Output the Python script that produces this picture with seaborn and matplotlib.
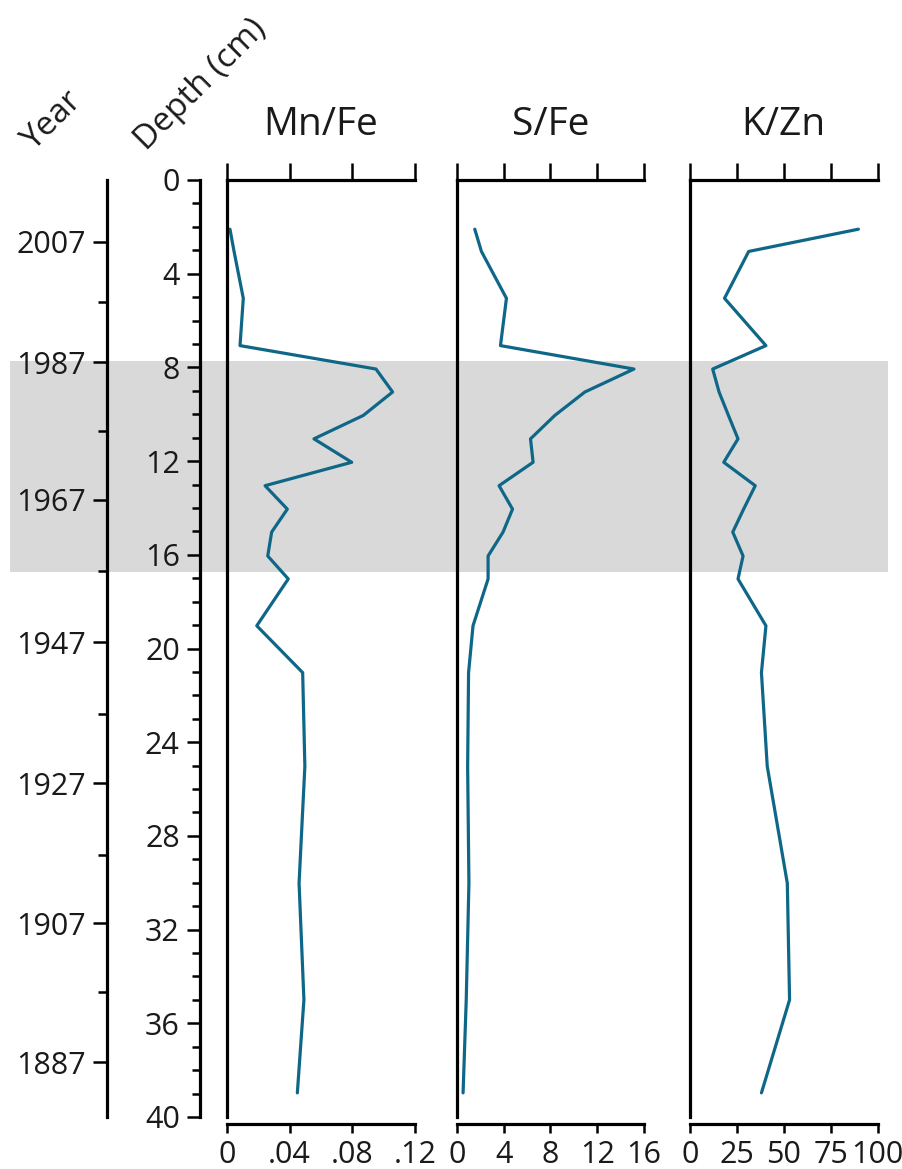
import matplotlib
matplotlib.use("Agg")
import matplotlib.pyplot as plt
import matplotlib.transforms as mtransforms
from matplotlib.patches import Rectangle
from matplotlib.ticker import FixedLocator, MultipleLocator, NullLocator
import seaborn as sns

# ---------------- data ----------------
depth = [2.1, 3.05, 5.05, 7.07, 8.07, 9.05, 10.05, 11.05, 12.05, 13.05,
         14.05, 15.03, 16.05, 17.03, 19.03, 21.03, 25.03, 30.02, 35.0, 38.97]
mn_fe = [0.0019, 0.0045, 0.0104, 0.0083, 0.0951, 0.1057, 0.087, 0.0555, 0.0796, 0.0243,
         0.0385, 0.0285, 0.026, 0.0391, 0.019, 0.0483, 0.0497, 0.046, 0.0491, 0.0449]
s_fe = [1.52, 2.09, 4.23, 3.72, 15.14, 10.94, 8.37, 6.29, 6.51, 3.6,
        4.75, 3.94, 2.66, 2.66, 1.37, 0.99, 0.91, 1.02, 0.79, 0.52]
k_zn = [89.8, 31.3, 18.4, 40.5, 12.1, 15.5, 20.5, 25.6, 18.0, 34.8,
        28.6, 22.8, 28.3, 25.6, 40.5, 38.1, 41.2, 51.9, 53.1, 38.1]

year_labels = ["2007", "1987", "1967", "1947", "1927", "1907", "1887"]
year_label_depth = [2.63, 7.78, 13.66, 19.73, 25.75, 31.72, 37.67]
year_minor_depth = [5.22, 10.71, 16.71, 22.79, 28.81, 34.67]

band_top_depth = 7.74
band_bottom_depth = 16.72

depth_ticks = [0, 4, 8, 12, 16, 20, 24, 28, 32, 36, 40]

panel_titles = ["Mn/Fe", "S/Fe", "K/Zn"]
panel_limits = [(0, 0.12), (0, 16), (0, 100)]
panel_ticks = [[0, 0.04, 0.08, 0.12], [0, 4, 8, 12, 16], [0, 25, 50, 75, 100]]
panel_ticklabels = [["0", ".04", ".08", ".12"], ["0", "4", "8", "12", "16"],
                    ["0", "25", "50", "75", "100"]]
panel_values = [mn_fe, s_fe, k_zn]

# ---------------- style ----------------
sns.set_theme(style="white")
plt.rcParams["font.family"] = ["Open Sans", "DejaVu Sans"]

LINE = "#0f6788"
BAND = "#d9d9d9"
TXT = "#1a1a1a"
TICK_FS = 22
SPW = 2.3
TKW = 1.8

W, H = 902, 1169
fig = plt.figure(figsize=(W / 100, H / 100), dpi=100)


def fx(px):
    return px / W


top_px, bot_px = 180, 1117
ax_b = 1 - bot_px / H
ax_h = (bot_px - top_px) / H

panel_px = [(227, 415), (457, 644), (690, 877.5)]

axes = []
for i, (x0, x1) in enumerate(panel_px):
    ax = fig.add_axes([fx(x0), ax_b, fx(x1 - x0), ax_h])
    ax.set_facecolor("none")
    sns.lineplot(x=panel_values[i], y=depth, sort=False, estimator=None,
                 color=LINE, linewidth=2.3, ax=ax)
    ax.set_xlim(*panel_limits[i])
    ax.set_ylim(40, 0)
    ax.set_xlabel("")
    ax.set_ylabel("")
    for s in ["top", "right"]:
        ax.spines[s].set_visible(False)
    ax.spines["left"].set_linewidth(SPW)
    ax.spines["left"].set_color("black")
    ax.spines["bottom"].set_linewidth(SPW)
    ax.spines["bottom"].set_color("black")
    ax.spines["bottom"].set_position(("outward", 5))
    ax.yaxis.set_major_locator(NullLocator())
    ax.set_xticks(panel_ticks[i])
    ax.set_xticklabels(panel_ticklabels[i])
    ax.tick_params(axis="x", which="major", bottom=True, top=False, direction="out",
                   length=6.5, width=TKW, color="black", labelsize=TICK_FS, pad=5,
                   labelcolor=TXT)
    # top axis with longer ticks
    sec = ax.secondary_xaxis("top")
    sec.set_xticks(panel_ticks[i])
    sec.set_xticklabels([""] * len(panel_ticks[i]))
    sec.tick_params(axis="x", direction="out", length=12, width=TKW, color="black")
    sec.spines["top"].set_linewidth(SPW)
    sec.spines["top"].set_color("black")
    ax.text(0.5, 1.048, panel_titles[i], transform=ax.transAxes, ha="center",
            va="baseline", fontsize=28, color=TXT)
    axes.append(ax)

# depth axis
axd = fig.add_axes([fx(200), ax_b, 0.0005, ax_h])
axd.set_facecolor("none")
axd.set_ylim(40, 0)
axd.set_xticks([])
for s in ["top", "right", "bottom"]:
    axd.spines[s].set_visible(False)
axd.spines["left"].set_linewidth(SPW)
axd.spines["left"].set_color("black")
axd.yaxis.set_major_locator(FixedLocator(depth_ticks))
axd.yaxis.set_minor_locator(MultipleLocator(1))
axd.tick_params(axis="y", which="major", left=True, direction="out", length=9.5,
                width=TKW, color="black", labelsize=TICK_FS, pad=5, labelcolor=TXT)
axd.tick_params(axis="y", which="minor", left=True, direction="out", length=6,
                width=TKW, color="black")

# year axis
axy = fig.add_axes([fx(107), ax_b, 0.0005, ax_h])
axy.set_facecolor("none")
axy.set_ylim(40, 0)
axy.set_xticks([])
for s in ["top", "right", "bottom"]:
    axy.spines[s].set_visible(False)
axy.spines["left"].set_linewidth(SPW)
axy.spines["left"].set_color("black")
axy.set_yticks(year_label_depth)
axy.set_yticklabels(year_labels)
axy.yaxis.set_minor_locator(FixedLocator(year_minor_depth))
axy.tick_params(axis="y", which="major", left=True, direction="out", length=10,
                width=TKW, color="black", labelsize=TICK_FS, pad=5, labelcolor=TXT)
axy.tick_params(axis="y", which="minor", left=True, direction="out", length=6.5,
                width=TKW, color="black")

# grey band spanning the figure width
trans = mtransforms.blended_transform_factory(fig.transFigure, axes[0].transData)
band = Rectangle((fx(10), band_top_depth), fx(888) - fx(10),
                 band_bottom_depth - band_top_depth, transform=trans,
                 facecolor=BAND, edgecolor="none", zorder=-5)
fig.add_artist(band)

# rotated axis labels
fig.text(fx(53), 1 - 120 / H, "Year", rotation=45, rotation_mode="anchor",
         ha="center", va="center", fontsize=24, color=TXT)
fig.text(fx(201), 1 - 85 / H, "Depth (cm)", rotation=45, rotation_mode="anchor",
         ha="center", va="center", fontsize=24, color=TXT)

fig.savefig("out.png", dpi=100)
